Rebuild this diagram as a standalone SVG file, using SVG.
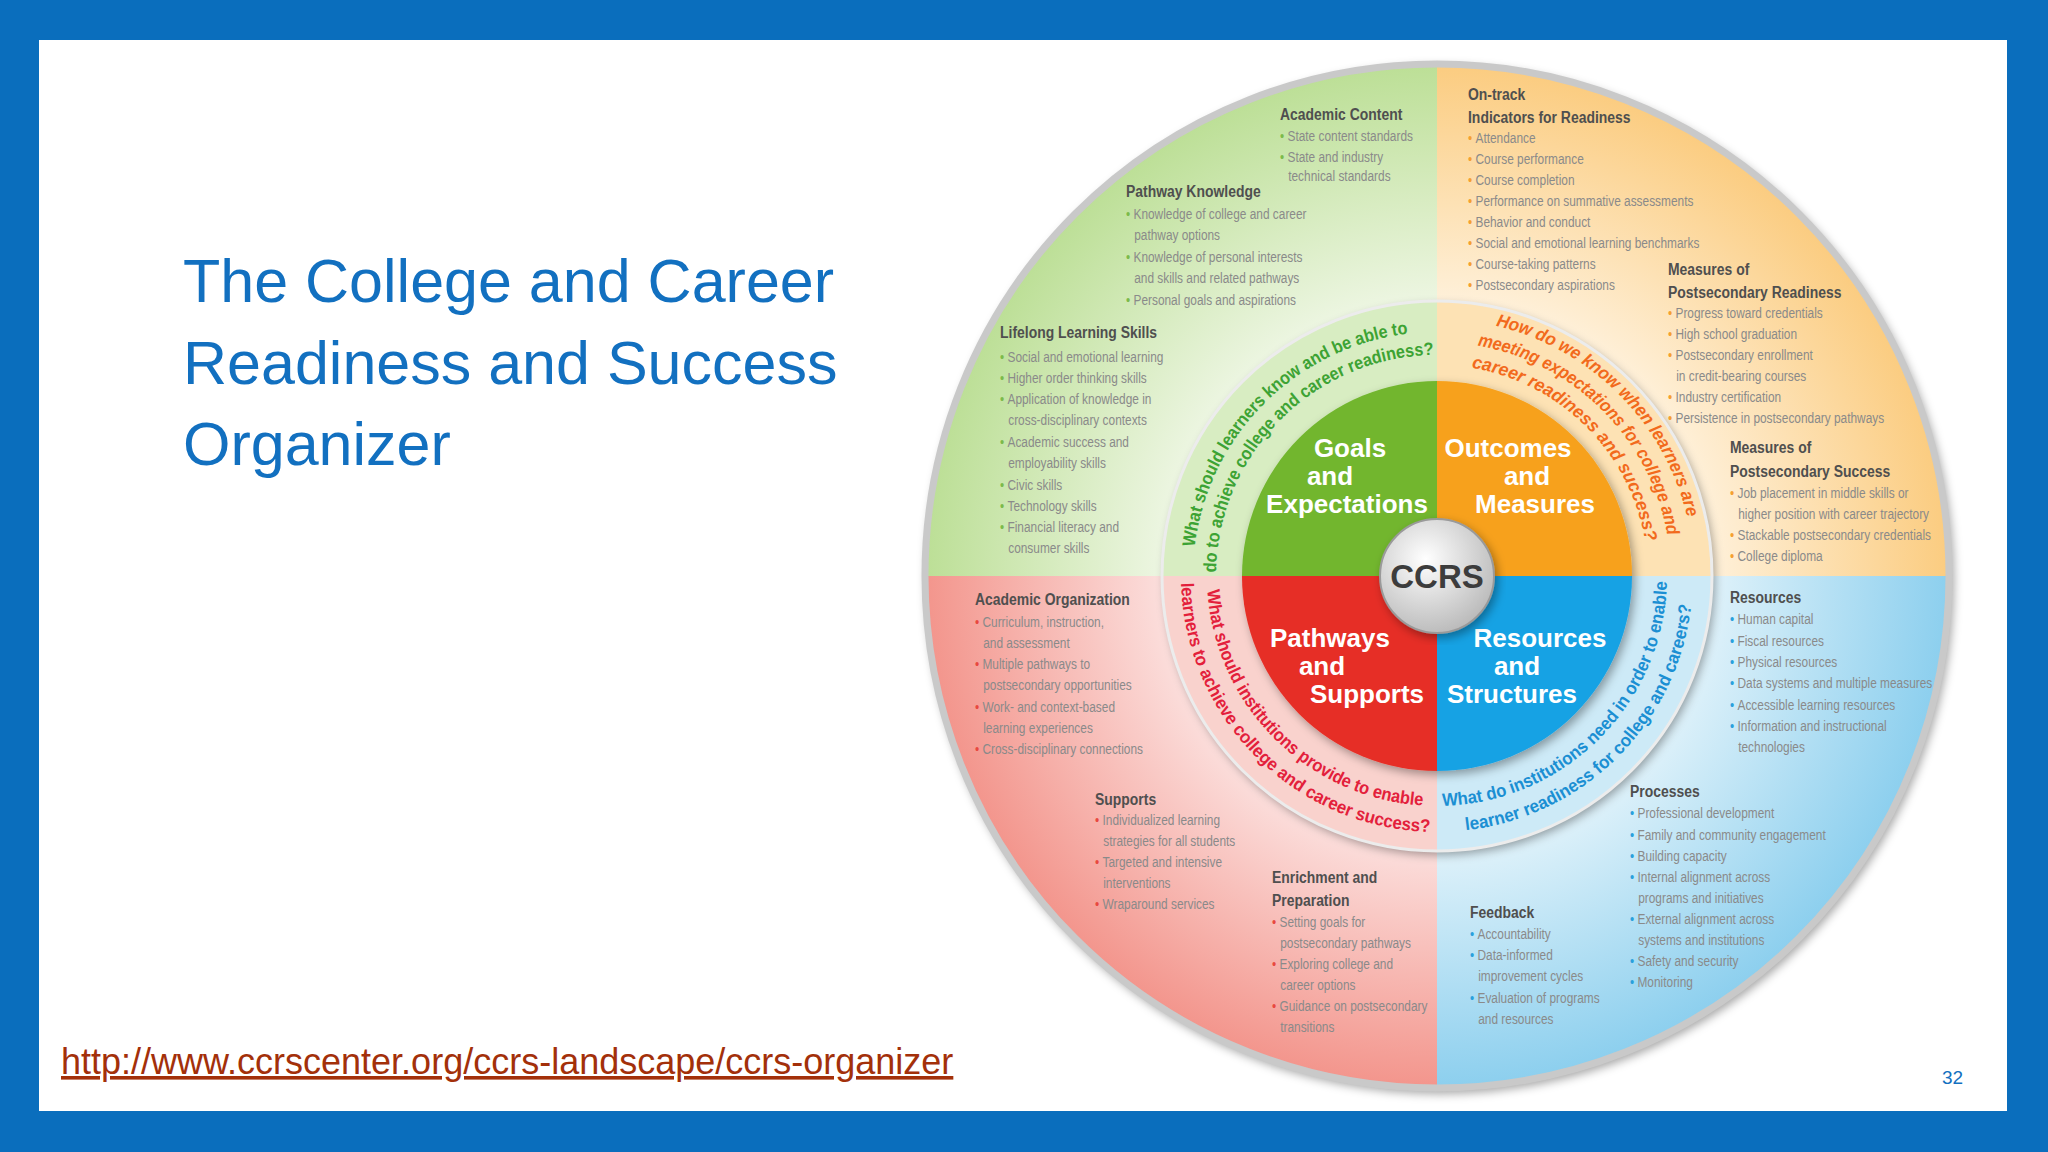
<svg xmlns="http://www.w3.org/2000/svg" width="2048" height="1152" viewBox="0 0 2048 1152">
<defs>
<radialGradient id="gG" gradientUnits="userSpaceOnUse" cx="1437" cy="576" r="512"><stop offset="0.45" stop-color="#f6faf0"/><stop offset="1" stop-color="#bcdf96"/></radialGradient>
<radialGradient id="gO" gradientUnits="userSpaceOnUse" cx="1437" cy="576" r="512"><stop offset="0.45" stop-color="#fff7ea"/><stop offset="1" stop-color="#fbcc80"/></radialGradient>
<radialGradient id="gR" gradientUnits="userSpaceOnUse" cx="1437" cy="576" r="512"><stop offset="0.45" stop-color="#fdeceb"/><stop offset="1" stop-color="#f3958c"/></radialGradient>
<radialGradient id="gB" gradientUnits="userSpaceOnUse" cx="1437" cy="576" r="512"><stop offset="0.45" stop-color="#eef8fc"/><stop offset="1" stop-color="#8ccfee"/></radialGradient>
<radialGradient id="gC" cx="0.4" cy="0.35" r="0.7"><stop offset="0" stop-color="#ffffff"/><stop offset="1" stop-color="#b8b8b8"/></radialGradient>
<filter id="sh" x="-10%" y="-10%" width="120%" height="120%"><feDropShadow dx="3" dy="4" stdDeviation="5" flood-color="#000" flood-opacity="0.35"/></filter>
<path id="aG1" d="M1193 576 A244 244 0 0 1 1437 332"/>
<path id="aG2" d="M1216 576 A221 221 0 0 1 1437 355"/>
<path id="aO1" d="M1437 319 A257 257 0 0 1 1694 576"/>
<path id="aO2" d="M1437 342 A234 234 0 0 1 1671 576"/>
<path id="aO3" d="M1437 365 A211 211 0 0 1 1648 576"/>
<path id="aR1" d="M1207 576 A230 230 0 0 0 1437 806"/>
<path id="aR2" d="M1181 576 A256 256 0 0 0 1437 832"/>
<path id="aB1" d="M1437 806 A230 230 0 0 0 1667 576"/>
<path id="aB2" d="M1437 832 A256 256 0 0 0 1693 576"/>
</defs>
<style>
.h{font-family:"Liberation Sans",Arial,sans-serif;font-weight:bold;font-size:17px;fill:#4f4f4f}
.b{font-family:"Liberation Sans",Arial,sans-serif;font-size:14.5px;fill:#8a8a8a}
.q{font-family:"Liberation Sans",Arial,sans-serif;font-weight:bold;font-size:18px}
.lab{font-family:"Liberation Sans",Arial,sans-serif;font-weight:bold;font-size:26px;fill:#fff;text-anchor:middle}
.gd{fill:#7cba4a}.od{fill:#f5a030}.rd{fill:#e8483f}.bd{fill:#2aa0dc}
</style>
<rect width="2048" height="1152" fill="#0a6ebd"/>
<rect x="39" y="40" width="1968" height="1071" fill="#ffffff"/>
<g id="title" font-family="'Liberation Sans',Arial,sans-serif" font-size="61" fill="#1270c0">
<text x="183" y="302">The College and Career</text>
<text x="183" y="384">Readiness and Success</text>
<text x="183" y="465">Organizer</text>
</g>
<text id="url" x="61" y="1074" font-family="'Liberation Sans',Arial,sans-serif" font-size="36" fill="#a3300a" text-decoration="underline">http://www.ccrscenter.org/ccrs-landscape/ccrs-organizer</text>
<text id="page" x="1942" y="1084" font-family="'Liberation Sans',Arial,sans-serif" font-size="19" fill="#1270c0">32</text>

<g id="wheel">
<circle cx="1437" cy="576" r="514" fill="#fff" filter="url(#sh)"/>
<path d="M1437 576 L925 576 A512 512 0 0 1 1437 64 Z" fill="url(#gG)"/>
<path d="M1437 576 L1437 64 A512 512 0 0 1 1949 576 Z" fill="url(#gO)"/>
<path d="M1437 576 L1437 1088 A512 512 0 0 1 925 576 Z" fill="url(#gR)"/>
<path d="M1437 576 L1949 576 A512 512 0 0 1 1437 1088 Z" fill="url(#gB)"/>
<circle cx="1437" cy="576" r="512" fill="none" stroke="#c9c9c9" stroke-width="7"/>
<g filter="url(#sh)">
<path d="M1437 576 L1162 576 A275 275 0 0 1 1437 301 Z" fill="#d8edc2"/>
<path d="M1437 576 L1437 301 A275 275 0 0 1 1712 576 Z" fill="#fde2b4"/>
<path d="M1437 576 L1437 851 A275 275 0 0 1 1162 576 Z" fill="#f9d2cd"/>
<path d="M1437 576 L1712 576 A275 275 0 0 1 1437 851 Z" fill="#cdeaf7"/>
</g>
<circle cx="1437" cy="576" r="275" fill="none" stroke="#ececec" stroke-width="3"/>
<g filter="url(#sh)">
<path d="M1437 576 L1242 576 A195 195 0 0 1 1437 381 Z" fill="#72b62f"/>
<path d="M1437 576 L1437 381 A195 195 0 0 1 1632 576 Z" fill="#f7a11c"/>
<path d="M1437 576 L1437 771 A195 195 0 0 1 1242 576 Z" fill="#e62f26"/>
<path d="M1437 576 L1632 576 A195 195 0 0 1 1437 771 Z" fill="#17a2e4"/>
</g>
</g>

<g id="q-green" class="q" fill="#3da334"><text><textPath href="#aG1" startOffset="50%" text-anchor="middle" textLength="325" lengthAdjust="spacingAndGlyphs">What should learners know and be able to</textPath></text>
<text><textPath href="#aG2" startOffset="50%" text-anchor="middle" textLength="340" lengthAdjust="spacingAndGlyphs">do to achieve college and career readiness?</textPath></text></g>
<g id="q-orange" class="q" fill="#f26a1c" font-style="italic" font-size="17"><text><textPath href="#aO1" startOffset="50%" text-anchor="middle" textLength="285" lengthAdjust="spacingAndGlyphs">How do we know when learners are</textPath></text>
<text><textPath href="#aO2" startOffset="50%" text-anchor="middle" textLength="286" lengthAdjust="spacingAndGlyphs">meeting expectations for college and</textPath></text>
<text><textPath href="#aO3" startOffset="50%" text-anchor="middle" textLength="262" lengthAdjust="spacingAndGlyphs">career readiness and success?</textPath></text></g>
<g id="q-red" class="q" fill="#e3203b"><text><textPath href="#aR1" startOffset="50%" text-anchor="middle" textLength="333" lengthAdjust="spacingAndGlyphs">What should institutions provide to enable</textPath></text>
<text><textPath href="#aR2" startOffset="50%" text-anchor="middle" textLength="388" lengthAdjust="spacingAndGlyphs">learners to achieve college and career success?</textPath></text></g>
<g id="q-blue" class="q" fill="#1b8fd3"><text><textPath href="#aB1" startOffset="50%" text-anchor="middle" textLength="350" lengthAdjust="spacingAndGlyphs">What do institutions need in order to enable</textPath></text>
<text><textPath href="#aB2" startOffset="50%" text-anchor="middle" textLength="344" lengthAdjust="spacingAndGlyphs">learner readiness for college and careers?</textPath></text></g>

<g id="n-goals" class="lab"><text x="1350" y="457">Goals</text><text x="1330" y="485">and</text><text x="1347" y="513">Expectations</text></g>
<g id="n-outcomes" class="lab"><text x="1508" y="457">Outcomes</text><text x="1527" y="485">and</text><text x="1535" y="513">Measures</text></g>
<g id="n-pathways" class="lab"><text x="1330" y="647">Pathways</text><text x="1322" y="675">and</text><text x="1367" y="703">Supports</text></g>
<g id="n-resources" class="lab"><text x="1540" y="647">Resources</text><text x="1517" y="675">and</text><text x="1512" y="703">Structures</text></g>
<g id="n-ccrs"><circle cx="1437" cy="576" r="57" fill="url(#gC)" stroke="#9a9a9a" stroke-width="2" filter="url(#sh)"/><text x="1437" y="588" text-anchor="middle" font-family="'Liberation Sans',Arial,sans-serif" font-weight="bold" font-size="33" fill="#3c3c3c">CCRS</text></g>

<g id="n-academic-content" transform="translate(1280,120) scale(0.82 1)"><text class="h">Academic Content</text>
<text class="b" y="21"><tspan class="gd">• </tspan>State content standards</text><text class="b" y="42"><tspan class="gd">• </tspan>State and industry</text><text class="b" x="10" y="61">technical standards</text></g>
<g id="n-pathway-knowledge" transform="translate(1126,197) scale(0.82 1)"><text class="h">Pathway Knowledge</text>
<text class="b" y="22"><tspan class="gd">• </tspan>Knowledge of college and career</text><text class="b" x="10" y="43">pathway options</text><text class="b" y="65"><tspan class="gd">• </tspan>Knowledge of personal interests</text><text class="b" x="10" y="86">and skills and related pathways</text><text class="b" y="108"><tspan class="gd">• </tspan>Personal goals and aspirations</text></g>
<g id="n-lifelong" transform="translate(1000,338) scale(0.82 1)"><text class="h">Lifelong Learning Skills</text>
<text class="b" y="24"><tspan class="gd">• </tspan>Social and emotional learning</text><text class="b" y="45"><tspan class="gd">• </tspan>Higher order thinking skills</text><text class="b" y="66"><tspan class="gd">• </tspan>Application of knowledge in</text><text class="b" x="10" y="87">cross-disciplinary contexts</text><text class="b" y="109"><tspan class="gd">• </tspan>Academic success and</text><text class="b" x="10" y="130">employability skills</text><text class="b" y="152"><tspan class="gd">• </tspan>Civic skills</text><text class="b" y="173"><tspan class="gd">• </tspan>Technology skills</text><text class="b" y="194"><tspan class="gd">• </tspan>Financial literacy and</text><text class="b" x="10" y="215">consumer skills</text></g>
<g id="n-ontrack" transform="translate(1468,100) scale(0.82 1)"><text class="h">On-track</text><text class="h" y="23">Indicators for Readiness</text>
<text class="b" y="43"><tspan class="od">• </tspan>Attendance</text><text class="b" y="64"><tspan class="od">• </tspan>Course performance</text><text class="b" y="85"><tspan class="od">• </tspan>Course completion</text><text class="b" y="106"><tspan class="od">• </tspan>Performance on summative assessments</text><text class="b" y="127"><tspan class="od">• </tspan>Behavior and conduct</text><text class="b" y="148"><tspan class="od">• </tspan>Social and emotional learning benchmarks</text><text class="b" y="169"><tspan class="od">• </tspan>Course-taking patterns</text><text class="b" y="190"><tspan class="od">• </tspan>Postsecondary aspirations</text></g>
<g id="n-readiness" transform="translate(1668,275) scale(0.82 1)"><text class="h">Measures of</text><text class="h" y="23">Postsecondary Readiness</text>
<text class="b" y="43"><tspan class="od">• </tspan>Progress toward credentials</text><text class="b" y="64"><tspan class="od">• </tspan>High school graduation</text><text class="b" y="85"><tspan class="od">• </tspan>Postsecondary enrollment</text><text class="b" x="10" y="106">in credit-bearing courses</text><text class="b" y="127"><tspan class="od">• </tspan>Industry certification</text><text class="b" y="148"><tspan class="od">• </tspan>Persistence in postsecondary pathways</text></g>
<g id="n-success" transform="translate(1730,453) scale(0.82 1)"><text class="h">Measures of</text><text class="h" y="24">Postsecondary Success</text>
<text class="b" y="45"><tspan class="od">• </tspan>Job placement in middle skills or</text><text class="b" x="10" y="66">higher position with career trajectory</text><text class="b" y="87"><tspan class="od">• </tspan>Stackable postsecondary credentials</text><text class="b" y="108"><tspan class="od">• </tspan>College diploma</text></g>
<g id="n-resources-list" transform="translate(1730,603) scale(0.82 1)"><text class="h">Resources</text>
<text class="b" y="21"><tspan class="bd">• </tspan>Human capital</text><text class="b" y="43"><tspan class="bd">• </tspan>Fiscal resources</text><text class="b" y="64"><tspan class="bd">• </tspan>Physical resources</text><text class="b" y="85"><tspan class="bd">• </tspan>Data systems and multiple measures</text><text class="b" y="107"><tspan class="bd">• </tspan>Accessible learning resources</text><text class="b" y="128"><tspan class="bd">• </tspan>Information and instructional</text><text class="b" x="10" y="149">technologies</text></g>
<g id="n-academic-org" transform="translate(975,605) scale(0.82 1)"><text class="h">Academic Organization</text>
<text class="b" y="22"><tspan class="rd">• </tspan>Curriculum, instruction,</text><text class="b" x="10" y="43">and assessment</text><text class="b" y="64"><tspan class="rd">• </tspan>Multiple pathways to</text><text class="b" x="10" y="85">postsecondary opportunities</text><text class="b" y="107"><tspan class="rd">• </tspan>Work- and context-based</text><text class="b" x="10" y="128">learning experiences</text><text class="b" y="149"><tspan class="rd">• </tspan>Cross-disciplinary connections</text></g>
<g id="n-supports" transform="translate(1095,805) scale(0.82 1)"><text class="h">Supports</text>
<text class="b" y="20"><tspan class="rd">• </tspan>Individualized learning</text><text class="b" x="10" y="41">strategies for all students</text><text class="b" y="62"><tspan class="rd">• </tspan>Targeted and intensive</text><text class="b" x="10" y="83">interventions</text><text class="b" y="104"><tspan class="rd">• </tspan>Wraparound services</text></g>
<g id="n-enrichment" transform="translate(1272,883) scale(0.82 1)"><text class="h">Enrichment and</text><text class="h" y="23">Preparation</text>
<text class="b" y="44"><tspan class="rd">• </tspan>Setting goals for</text><text class="b" x="10" y="65">postsecondary pathways</text><text class="b" y="86"><tspan class="rd">• </tspan>Exploring college and</text><text class="b" x="10" y="107">career options</text><text class="b" y="128"><tspan class="rd">• </tspan>Guidance on postsecondary</text><text class="b" x="10" y="149">transitions</text></g>
<g id="n-processes" transform="translate(1630,797) scale(0.82 1)"><text class="h">Processes</text>
<text class="b" y="21"><tspan class="bd">• </tspan>Professional development</text><text class="b" y="43"><tspan class="bd">• </tspan>Family and community engagement</text><text class="b" y="64"><tspan class="bd">• </tspan>Building capacity</text><text class="b" y="85"><tspan class="bd">• </tspan>Internal alignment across</text><text class="b" x="10" y="106">programs and initiatives</text><text class="b" y="127"><tspan class="bd">• </tspan>External alignment across</text><text class="b" x="10" y="148">systems and institutions</text><text class="b" y="169"><tspan class="bd">• </tspan>Safety and security</text><text class="b" y="190"><tspan class="bd">• </tspan>Monitoring</text></g>
<g id="n-feedback" transform="translate(1470,918) scale(0.82 1)"><text class="h">Feedback</text>
<text class="b" y="21"><tspan class="bd">• </tspan>Accountability</text><text class="b" y="42"><tspan class="bd">• </tspan>Data-informed</text><text class="b" x="10" y="63">improvement cycles</text><text class="b" y="85"><tspan class="bd">• </tspan>Evaluation of programs</text><text class="b" x="10" y="106">and resources</text></g>
</svg>
